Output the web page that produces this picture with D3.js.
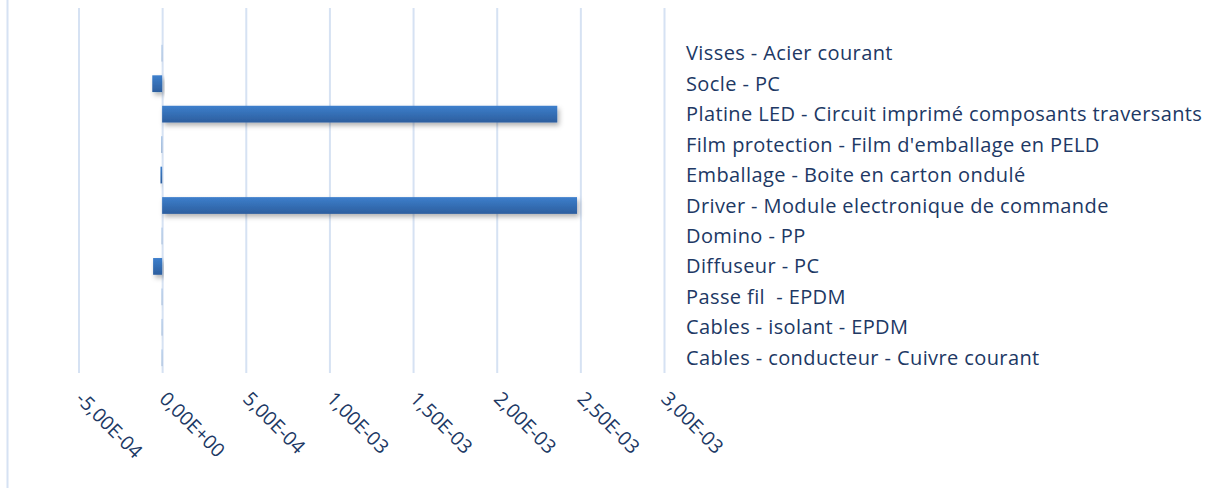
<!DOCTYPE html>
<html>
<head>
<meta charset="utf-8">
<script src="https://cdn.jsdelivr.net/npm/d3@7"></script>
<style>
  body { margin: 0; background: #fff; }
  svg text { font-family: "Open Sans", sans-serif; fill: #203864; white-space: pre; }
</style>
</head>
<body>
<script>
// categories, bottom to top like the Excel original
var categories = [
  "Cables - conducteur - Cuivre courant",
  "Cables - isolant - EPDM",
  "Passe fil  - EPDM",
  "Diffuseur - PC",
  "Domino - PP",
  "Driver - Module electronique de commande",
  "Emballage - Boite en carton ondulé",
  "Film protection - Film d'emballage en PELD",
  "Platine LED - Circuit imprimé composants traversants",
  "Socle - PC",
  "Visses - Acier courant"
];
var values = [-2e-6, -2e-6, -2e-6, -5.4e-5, -2e-6, 2.48e-3, -1e-5, -3e-6, 2.362e-3, -5.9e-5, -2e-6];
var tickValues = [-5e-4, 0, 5e-4, 1e-3, 1.5e-3, 2e-3, 2.5e-3, 3e-3];

var w = 1208, h = 488,
    margin = {top: 8, left: 78.5, right: 664, bottom: 373};

var svg = d3.select("body").append("svg")
  .attr("width", w)
  .attr("height", h);

var defs = svg.append("defs");
var grad = defs.append("linearGradient")
  .attr("id", "barGrad")
  .attr("x1", 0).attr("y1", 0).attr("x2", 0).attr("y2", 1);
grad.append("stop").attr("offset", "0%").attr("stop-color", "#3d7fcc");
grad.append("stop").attr("offset", "100%").attr("stop-color", "#2c5e9e");

var shadow = defs.append("filter")
  .attr("id", "shadow")
  .attr("x", "-20%").attr("y", "-50%")
  .attr("width", "140%").attr("height", "250%");
shadow.append("feDropShadow")
  .attr("dx", 2).attr("dy", 3)
  .attr("stdDeviation", 2.5)
  .attr("flood-color", "#000")
  .attr("flood-opacity", 0.3);

// chart border on the left
svg.append("line")
  .attr("x1", 7.5).attr("x2", 7.5)
  .attr("y1", 0).attr("y2", h)
  .attr("stroke", "#d6e2f3")
  .attr("stroke-width", 2);

var x_scale = d3.scaleLinear()
  .domain([-5e-4, 3e-3])
  .range([margin.left, margin.right]);

var y_scale = d3.scaleBand()
  .domain(categories)
  .range([373, 38])
  .paddingInner(0.45)
  .paddingOuter(0.225);

// tick label format like "2,50E-03"
function sciFormat(d) {
  if (d === 0) return "0,00E+00";
  var s = d3.format(".2e")(d);
  var parts = s.split("e");
  var exp = +parts[1];
  var sign = exp < 0 ? "-" : "+";
  var e = Math.abs(exp);
  return parts[0].replace(".", ",").replace("−", "-") + "E" + sign + (e < 10 ? "0" + e : e);
}

// gridlines through the axis
var xAxis = d3.axisBottom(x_scale)
  .tickValues(tickValues)
  .tickSize(-(margin.bottom - margin.top))
  .tickFormat("");

var gX = svg.append("g")
  .attr("transform", "translate(0," + margin.bottom + ")")
  .call(xAxis);
gX.select(".domain").remove();
gX.selectAll(".tick line")
  .attr("stroke", "#d6e2f3")
  .attr("stroke-width", 2);

// rotated tick labels
svg.append("g")
  .selectAll("text")
  .data(tickValues)
  .enter()
  .append("text")
  .attr("transform", function(d) {
    return "translate(" + (x_scale(d) - 4) + "," + 400 + ") rotate(45)";
  })
  .attr("text-anchor", "start")
  .attr("font-size", "19.5px")
  .text(sciFormat);

// bars
svg.append("g")
  .selectAll("rect")
  .data(values)
  .enter()
  .append("rect")
  .attr("x", function(d) { return x_scale(Math.min(0, d)); })
  .attr("y", function(d, i) { return y_scale(categories[i]); })
  .attr("width", function(d) { return Math.abs(x_scale(d) - x_scale(0)); })
  .attr("height", y_scale.bandwidth())
  .attr("fill", "url(#barGrad)")
  .attr("filter", "url(#shadow)");

// category labels on the right
svg.append("g")
  .selectAll("text")
  .data(categories)
  .enter()
  .append("text")
  .attr("x", 686)
  .attr("y", function(d) { return y_scale(d) + y_scale.bandwidth() / 2; })
  .attr("dy", "0.35em")
  .attr("font-size", "20px")
  .attr("letter-spacing", "0.4px")
  .text(function(d) { return d; });
</script>
</body>
</html>
